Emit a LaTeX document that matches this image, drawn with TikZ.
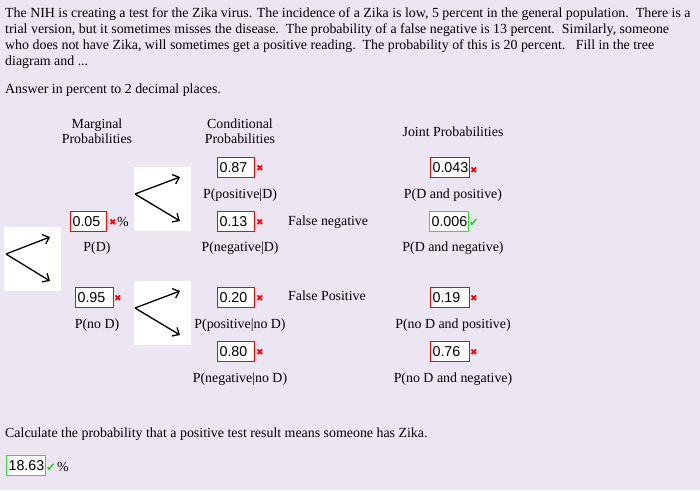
\documentclass[tikz,border=0pt]{standalone}
\usepackage{fontspec}
\setmainfont{Liberation Serif}
\newfontfamily\boxfont{Liberation Sans}
\newfontfamily\symfont{DejaVu Sans}
\usetikzlibrary{arrows.meta}
\definecolor{bgc}{RGB}{236,230,242}
\definecolor{okgreen}{RGB}{40,230,40}
\definecolor{chkgreen}{RGB}{50,200,50}
\tikzset{
  txt/.style={inner sep=0pt, font=\fontsize{13.9}{16}\selectfont},
  ansbox/.style={draw=red, line width=1.1pt, fill=white, inner xsep=2pt, inner ysep=0pt,
     minimum height=20pt, text width=33pt, align=left, anchor=north west,
     font=\boxfont\fontsize{14.3}{16}\selectfont},
  okbox/.style={ansbox, draw=okgreen},
  wrong/.style={inner sep=0pt, text=red, font=\symfont\fontsize{9}{9}\selectfont},
  right/.style={inner sep=0pt, text=chkgreen, font=\symfont\fontsize{11.5}{11.5}\selectfont},
  arrbox/.style={fill=white, draw=none, anchor=north west, minimum width=57pt, minimum height=64pt, inner sep=0pt},
  tree/.style={line width=1.3pt, -{Straight Barb[length=5.5pt,width=10pt]}}
}
\begin{document}
\begin{tikzpicture}[x=1pt,y=-1pt]
\useasboundingbox[fill=bgc] (0,0) rectangle (700,490);
% problem text
\node[txt,anchor=base west] (l1) at (5,17) {The NIH is creating a test for the Zika virus. The incidence of a Zika is low, 5 percent in the general population.\ \ There is a};
\node[txt,anchor=base west] (l2) at (5,33) {trial version, but it sometimes misses the disease.\ \ The probability of a false negative is 13 percent.\ \ Similarly, someone};
\node[txt,anchor=base west] (l3) at (5,49) {who does not have Zika, will sometimes get a positive reading.\ \ The probability of this is 20 percent.\ \ \ Fill in the tree};
\node[txt,anchor=base west] (l4) at (5,65) {diagram and ...};
\node[txt,anchor=base west] (l5) at (5,93) {Answer in percent to 2 decimal places.};
% headers
\node[txt,anchor=base] (h1a) at (97,128) {Marginal};
\node[txt,anchor=base] (h1b) at (97,143) {Probabilities};
\node[txt,anchor=base] (h2a) at (240,128) {Conditional};
\node[txt,anchor=base] (h2b) at (240,143) {Probabilities};
\node[txt,anchor=base] (h3) at (453,136) {Joint Probabilities};
% arrow boxes
\node[arrbox] (ab0) at (4,227) {};
\node[arrbox] (ab1) at (134,167) {};
\node[arrbox] (ab2) at (134,281) {};
\coordinate (v0) at (6,254); \coordinate (t0a) at (50,237); \coordinate (t0b) at (50,281);
\coordinate (v1) at (135,194); \coordinate (t1a) at (180,177); \coordinate (t1b) at (180,221);
\coordinate (v2) at (135,308); \coordinate (t2a) at (180,291); \coordinate (t2b) at (180,335);
\draw[tree] (v0) -- (t0a); \draw[tree] (v0) -- (t0b);
\draw[tree] (v1) -- (t1a); \draw[tree] (v1) -- (t1b);
\draw[tree] (v2) -- (t2a); \draw[tree] (v2) -- (t2b);
% marginal
\node[ansbox,text width=32pt] (pd) at (70,211) {0.05};
\node[wrong,anchor=west] (pdx) at (109,222) {✖};
\node[txt,anchor=base west] (pdpc) at (117,226) {\%};
\node[txt,anchor=base] (pdl) at (97,251) {P(D)};
\node[ansbox,text width=34pt] (pnd) at (75,287) {0.95};
\node[wrong,anchor=west] (pndx) at (114,298) {✖};
\node[txt,anchor=base] (pndl) at (97,328) {P(no D)};
% conditional
\node[ansbox] (c1) at (217,157) {0.87};
\node[wrong,anchor=west] (c1x) at (256,168) {✖};
\node[txt,anchor=base] (c1l) at (240,198) {P(positive|D)};
\node[ansbox] (c2) at (217,211) {0.13};
\node[wrong,anchor=west] (c2x) at (256,222) {✖};
\node[txt,anchor=base west] (fn) at (288,225) {False negative};
\node[txt,anchor=base] (c2l) at (240,251) {P(negative|D)};
\node[ansbox] (c3) at (217,287) {0.20};
\node[wrong,anchor=west] (c3x) at (256,298) {✖};
\node[txt,anchor=base west] (fp) at (288,300) {False Positive};
\node[txt,anchor=base] (c3l) at (240,328) {P(positive|no D)};
\node[ansbox] (c4) at (217,341) {0.80};
\node[wrong,anchor=west] (c4x) at (256,352) {✖};
\node[txt,anchor=base] (c4l) at (240,382) {P(negative|no D)};
% joint
\node[ansbox,text width=35pt] (j1) at (430,157) {0.043};
\node[wrong,anchor=west] (j1x) at (470,170) {✖};
\node[txt,anchor=base] (j1l) at (453,198) {P(D and positive)};
\node[okbox,text width=35pt] (j2) at (429,211) {0.006};
\node[right,anchor=west] (j2c) at (469,223) {✔};
\node[txt,anchor=base] (j2l) at (453,251) {P(D and negative)};
\node[ansbox,text width=35pt] (j3) at (430,287) {0.19};
\node[wrong,anchor=west] (j3x) at (470,298) {✖};
\node[txt,anchor=base] (j3l) at (453,328) {P(no D and positive)};
\node[ansbox,text width=35pt] (j4) at (430,341) {0.76};
\node[wrong,anchor=west] (j4x) at (470,352) {✖};
\node[txt,anchor=base] (j4l) at (453,382) {P(no D and negative)};
% final
\node[txt,anchor=base west] (q) at (5,437) {Calculate the probability that a positive test result means someone has Zika.};
\node[okbox,text width=35pt] (ans) at (6,455) {18.63};
\node[right,anchor=west] (ansc) at (46,468) {✔};
\node[txt,anchor=base west] (anspc) at (57,471) {\%};
\end{tikzpicture}
\end{document}
